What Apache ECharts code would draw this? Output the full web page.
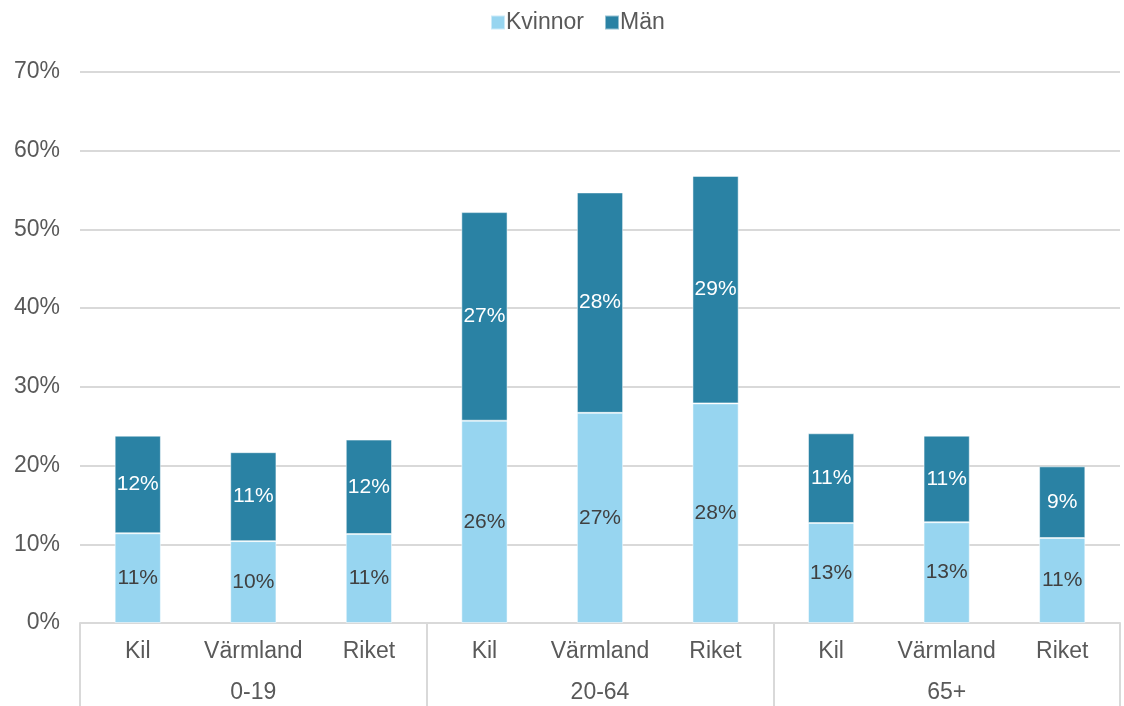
<!DOCTYPE html>
<html>
<head>
<meta charset="utf-8">
<script src="https://cdn.jsdelivr.net/npm/echarts@6/dist/echarts.min.js"></script>
<style>
  html, body { margin: 0; padding: 0; background: #fff; }
  #main { width: 1124px; height: 706px; }
</style>
</head>
<body>
<div id="main"></div>
<script>
// kategorier och värden (andel av befolkningen, %)
var places = ["Kil", "Värmland", "Riket", "Kil", "Värmland", "Riket", "Kil", "Värmland", "Riket"];
var ageGroups = ["0-19", "20-64", "65+"];
var kvinnor = [11.4, 10.4, 11.3, 25.7, 26.7, 27.9, 12.7, 12.8, 10.8];
var man = [12.4, 11.3, 12.0, 26.5, 28.0, 28.9, 11.4, 11.0, 9.1];
var yTicks = { min: 0, max: 70, interval: 10 };

var font = "'Liberation Sans', Arial, sans-serif";
var gray = "#595959";
var lineGray = "#d9d9d9";

function pct(p) {
    return Math.round(p.value) + "%";
}

var myChart = echarts.init(document.getElementById('main'));
var option = {
    animation: false,
    textStyle: { fontFamily: font },
    legend: {
        top: 6,
        left: 485,
        icon: 'rect',
        itemWidth: 14,
        itemHeight: 14,
        itemGap: 20,
        textStyle: { fontSize: 23, color: gray, fontFamily: font, padding: [0, 0, 0, -4] },
        data: ['Kvinnor', 'Män']
    },
    grid: { left: 80, right: 4, top: 72, bottom: 83, containLabel: false },
    xAxis: [
        {
            type: 'category',
            data: places,
            axisLine: { show: true, lineStyle: { color: lineGray, width: 2 } },
            axisTick: { show: false },
            axisLabel: { margin: 17, fontSize: 23, color: gray, fontFamily: font, interval: 0 }
        },
        {
            type: 'category',
            data: ageGroups,
            position: 'bottom',
            axisLine: { show: false },
            axisTick: { show: true, length: 83, lineStyle: { color: lineGray, width: 2 } },
            axisLabel: { margin: 58, fontSize: 23, color: gray, fontFamily: font }
        }
    ],
    yAxis: {
        type: 'value',
        min: yTicks.min,
        max: yTicks.max,
        interval: yTicks.interval,
        axisLine: { show: false },
        axisTick: { show: false },
        splitLine: { lineStyle: { color: lineGray, width: 2 } },
        axisLabel: { formatter: '{value}%', fontSize: 23, color: gray, fontFamily: font, margin: 20 }
    },
    series: [
        {
            name: 'Kvinnor',
            type: 'bar',
            stack: 'tot',
            xAxisIndex: 0,
            barWidth: '40%',
            data: kvinnor,
            itemStyle: { color: '#97d5f0', borderColor: 'rgba(255,255,255,0.5)', borderWidth: 1 },
            label: { show: true, position: 'inside', formatter: pct, fontSize: 21, color: '#404040', fontFamily: font }
        },
        {
            name: 'Män',
            type: 'bar',
            stack: 'tot',
            xAxisIndex: 0,
            barWidth: '40%',
            data: man,
            itemStyle: { color: '#2a82a4', borderColor: 'rgba(255,255,255,0.5)', borderWidth: 1 },
            label: { show: true, position: 'inside', formatter: pct, fontSize: 21, color: '#ffffff', fontFamily: font }
        }
    ]
};

myChart.setOption(option);
</script>
</body>
</html>
